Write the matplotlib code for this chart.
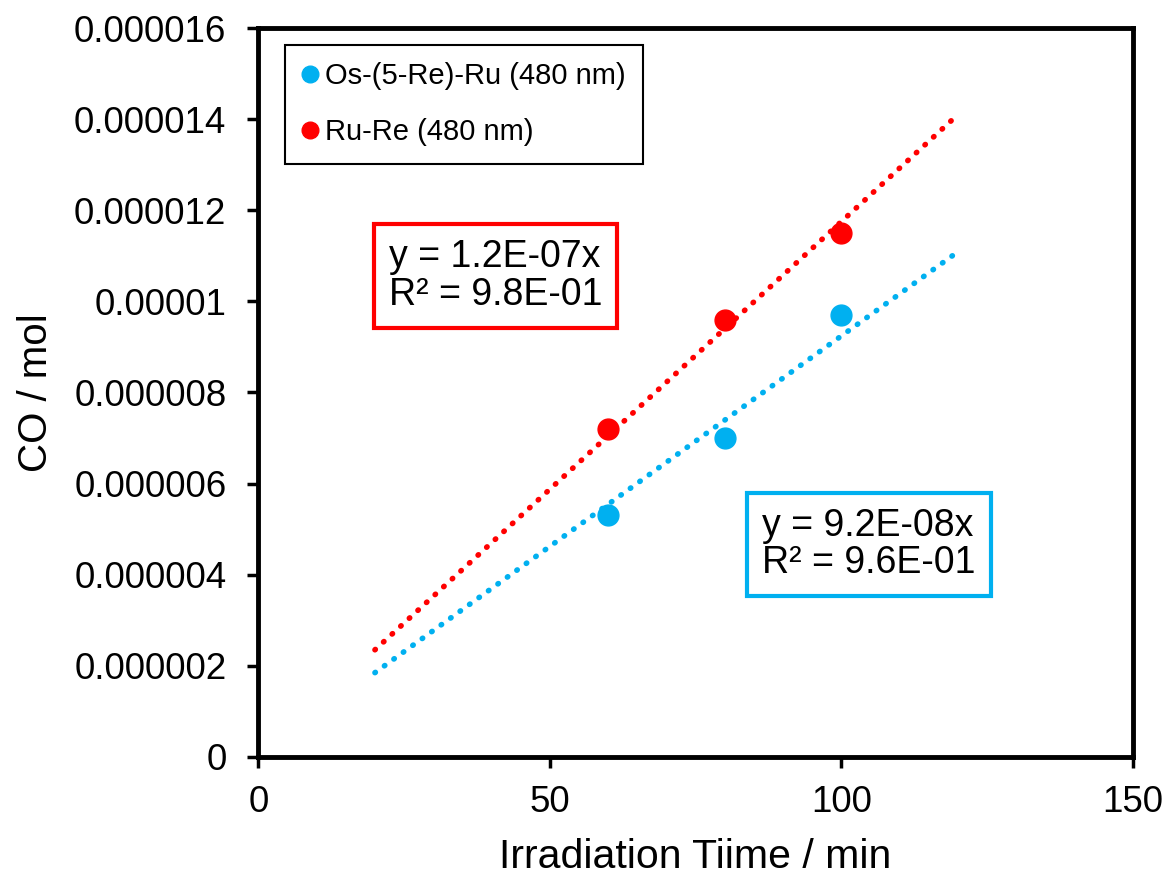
import numpy as np
import matplotlib
matplotlib.use("Agg")
import matplotlib.pyplot as plt

plt.rcParams["font.family"] = ["Liberation Sans", "DejaVu Sans"]

time_min = [60, 80, 100]
co_os = [5.3e-6, 7.0e-6, 9.7e-6]
co_ru = [7.2e-6, 9.6e-6, 11.5e-6]
yticks = [0, 2e-6, 4e-6, 6e-6, 8e-6, 1e-5, 1.2e-5, 1.4e-5, 1.6e-5]
ytick_labels = ["0", "0.000002", "0.000004", "0.000006", "0.000008",
                "0.00001", "0.000012", "0.000014", "0.000016"]
fit_range = [20, 120]

BLUE = "#00b0f0"
RED = "#ff0000"


def slope0(x, y):
    # least squares line through the origin (Excel trendline, intercept = 0)
    x = np.asarray(x, float)
    y = np.asarray(y, float)
    return (x * y).sum() / (x * x).sum()


m_os = slope0(time_min, co_os)
m_ru = slope0(time_min, co_ru)

fig = plt.figure(figsize=(11.69, 8.77), dpi=100)
ax = fig.add_axes([0.221, 0.137, 0.748, 0.831])

xf = np.array(fit_range, float)
dots = dict(linestyle=(0, (0.1, 2.0)), linewidth=4, dash_capstyle="round")
ax.plot(xf, m_os * xf, color=BLUE, **dots)
ax.plot(xf, m_ru * xf, color=RED, **dots)

ax.plot(time_min, co_os, "o", color=BLUE, ms=15, label="Os-(5-Re)-Ru (480 nm)")
ax.plot(time_min, co_ru, "o", color=RED, ms=15, label="Ru-Re (480 nm)")

ax.set_xlim(0, 150)
ax.set_ylim(0, 1.6e-5)
ax.set_xticks([0, 50, 100, 150])
ax.set_yticks(yticks)
ax.set_yticklabels(ytick_labels)
ax.tick_params(labelsize=26.5, length=8, width=2.5, direction="out")
ax.tick_params(axis="y", pad=15)
ax.tick_params(axis="x", pad=12)
for s in ax.spines.values():
    s.set_linewidth(3.5)

ax.set_xlabel("Irradiation Tiime / min", fontsize=29.5, labelpad=13)
ax.set_ylabel("CO / mol", fontsize=29, labelpad=14)

leg = ax.legend(loc="upper left", bbox_to_anchor=(0.031, 0.977), fontsize=21,
                markerscale=0.8, handlelength=0.5, handletextpad=0.25,
                labelspacing=0.95, borderpad=0.6, borderaxespad=0,
                fancybox=False, framealpha=1)
leg.get_frame().set_edgecolor("black")
leg.get_frame().set_linewidth(1.5)

ax.text(0.149, 0.66, f"y = {m_ru:.1E}x\nR² = 9.8E-01", transform=ax.transAxes,
        fontsize=27, va="center", ha="left", linespacing=1.05,
        bbox=dict(boxstyle="square,pad=0.4", fc="white", ec=RED, lw=3))
ax.text(0.576, 0.291, f"y = {m_os:.1E}x\nR² = 9.6E-01", transform=ax.transAxes,
        fontsize=27, va="center", ha="left", linespacing=1.05,
        bbox=dict(boxstyle="square,pad=0.4", fc="white", ec=BLUE, lw=3))

fig.savefig("out.png", dpi=100)
